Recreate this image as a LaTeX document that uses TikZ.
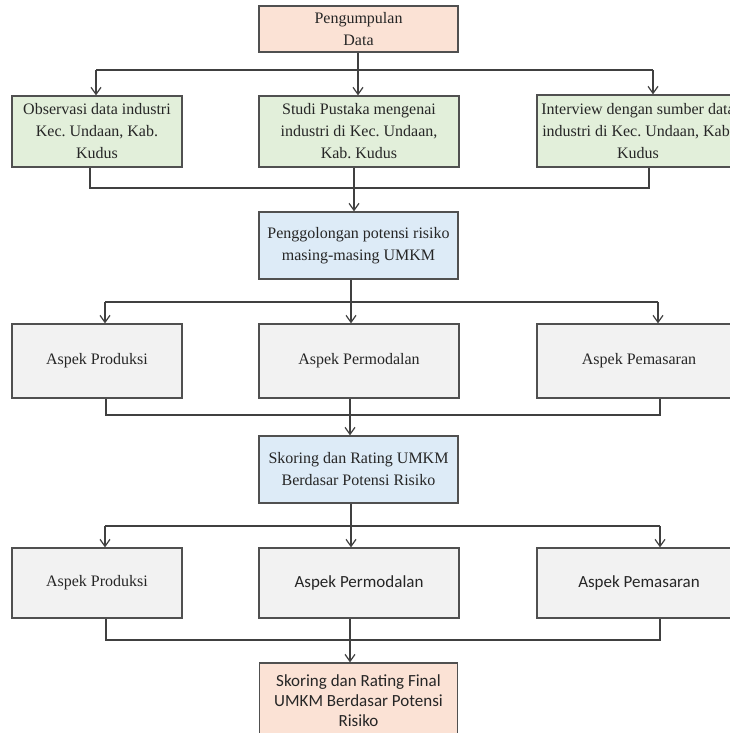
\documentclass[tikz,border=0pt]{standalone}
\usepackage{fontspec}
\setmainfont{Liberation Serif}
\newfontfamily\calibri{Carlito}
\usetikzlibrary{arrows.meta}
\frenchspacing
\definecolor{peach}{HTML}{FBE2D5}
\definecolor{leaf}{HTML}{E2EFDA}
\definecolor{sky}{HTML}{DDEBF7}
\definecolor{pale}{HTML}{F2F2F2}
\definecolor{edge}{HTML}{505050}
\definecolor{wire}{HTML}{404040}
\definecolor{ink}{HTML}{262626}
% source, trunk x, bus y, left x, right x, left/mid/right targets
\newcommand {\fanout}[8] {\coordinate (t) at (#2,#3);
                          \coordinate (fl) at (#4,#3);
                          \coordinate (fr) at (#5,#3);
                          \draw[link,arr] (t |- #1.south) -- (t |- #7.north);
                          \draw[link] (fl) -- (fr);
                          \draw[link,arr] (fl) -- (fl |- #6.north);
                          \draw[link,arr] (fr) -- (fr |- #8.north);}
% left/mid/right sources, target, bus y, left x, trunk x, right x
\newcommand {\fanin}[8] {\coordinate (fl) at (#6,#5);
                         \coordinate (t) at (#7,#5);
                         \coordinate (fr) at (#8,#5);
                         \draw[link] (fl |- #1.south) -- (fl) -- (fr) -- (fr |- #3.south);
                         \draw[link,arr] (t |- #2.south) -- (t |- #4.north);}

\begin{document}
\begin{tikzpicture}[x=1pt, y=-1pt,
    box/.style={draw=edge, line width=1.3pt, align=center, inner sep=2pt, text=ink,
                font=\fontsize{16}{22}\selectfont},
    sans/.style={font=\calibri\fontsize{17}{20}\selectfont},
    link/.style={draw=wire, line width=1.2pt},
    arr/.style={-{Straight Barb[length=7pt,width=10pt]}}]
    \clip (0,0) rectangle (730,733);
    \fill[white] (0,0) rectangle (730,733);
    % collecting data
    \node[box, fill=peach, minimum width=199pt, minimum height=46pt] (data) at (358.5,29) {Pengumpulan\\Data};
    \node[box, fill=leaf, minimum width=170pt, minimum height=71pt] (obs) at (97,131.5) {Observasi data industri\\Kec. Undaan, Kab.\\Kudus};
    \node[box, fill=leaf, minimum width=200pt, minimum height=71pt] (studi) at (359,131.5) {Studi Pustaka mengenai\\industri di Kec. Undaan,\\Kab. Kudus};
    \node[box, fill=leaf, minimum width=202pt, minimum height=72pt] (inter) at (638,131) {Interview dengan sumber data\\industri di Kec. Undaan, Kab.\\Kudus};
    \node[box, fill=sky, minimum width=199pt, minimum height=67pt] (golong) at (358.5,245.5) {Penggolongan potensi risiko\\masing-masing UMKM};
    % first rating
    \node[box, fill=pale, minimum width=170pt, minimum height=74pt] (prod) at (97,361) {Aspek Produksi};
    \node[box, fill=pale, minimum width=200pt, minimum height=74pt] (modal) at (359,361) {Aspek Permodalan};
    \node[box, fill=pale, minimum width=204pt, minimum height=74pt] (pasar) at (639,361) {Aspek Pemasaran};
    \node[box, fill=sky, minimum width=199pt, minimum height=67pt] (skor) at (358.5,469.5) {Skoring dan Rating UMKM\\Berdasar Potensi Risiko};
    % final rating
    \node[box, fill=pale, minimum width=170pt, minimum height=70pt] (prodb) at (97,583) {Aspek Produksi};
    \node[box, sans, fill=pale, minimum width=200pt, minimum height=70pt] (modalb) at (359,583) {Aspek Permodalan};
    \node[box, sans, fill=pale, minimum width=204pt, minimum height=70pt] (pasarb) at (639,583) {Aspek Pemasaran};
    \node[box, sans, fill=peach, minimum width=198pt, minimum height=76pt] (final) at (358.5,701) {Skoring dan Rating Final\\UMKM Berdasar Potensi\\Risiko};
    \fanout{data}{358}{70}{96}{653}{obs}{studi}{inter}
    \fanin{obs}{studi}{inter}{golong}{188}{90}{354}{649}
    \fanout{golong}{351}{302}{105}{658}{prod}{modal}{pasar}
    \fanin{prod}{modal}{pasar}{skor}{415}{106}{350}{660}
    \fanout{skor}{351}{526}{105}{660}{prodb}{modalb}{pasarb}
    \fanin{prodb}{modalb}{pasarb}{final}{640}{106}{350}{660}
\end{tikzpicture}
\end{document}
